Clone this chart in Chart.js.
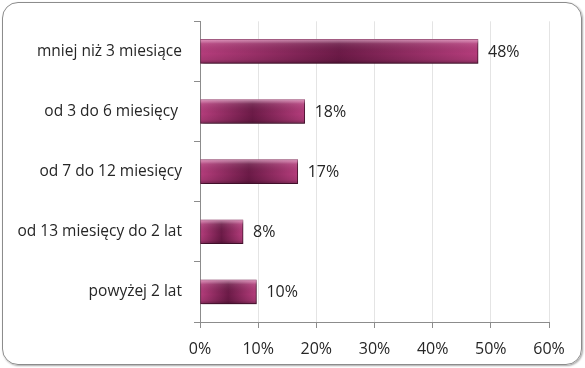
<!DOCTYPE html>
<html>
<head>
<meta charset="utf-8">
<script src="https://cdn.jsdelivr.net/npm/chart.js@4"></script>
<style>
  html, body { margin: 0; padding: 0; background: #fff; }
  .frame {
    position: absolute; left: 2px; top: 2px; width: 578px; height: 361px;
    border: 1.5px solid #8c8c8c; border-radius: 16px;
    box-shadow: 1px 1px 2px rgba(0,0,0,0.35);
  }
  #wrap { position: absolute; left: 0; top: 0; width: 585px; height: 368px; }
</style>
</head>
<body>
<div class="frame"></div>
<div id="wrap"><canvas id="okres"></canvas></div>
<script>
const categories = ['mniej niż 3 miesiące', 'od 3 do 6 miesięcy ', 'od 7 do 12 miesięcy', 'od 13 miesięcy do 2 lat', 'powyżej 2 lat'];
const values = [47.8, 18.0, 16.8, 7.4, 9.7];
const valueLabels = ['48%', '18%', '17%', '8%', '10%'];
const xTicks = [0, 10, 20, 30, 40, 50, 60];

const FONT = "'Open Sans', 'Noto Sans', sans-serif";

// gradient across each bar, dark in the middle
function barFill(c) {
    const chart = c.chart;
    if (!chart.chartArea || c.raw === undefined) return '#9c2e68';
    const xs = chart.scales.x;
    const x0 = xs.getPixelForValue(0);
    const x1 = xs.getPixelForValue(c.raw);
    if (x1 - x0 < 1) return '#9c2e68';
    const g = chart.ctx.createLinearGradient(x0, 0, x1, 0);
    g.addColorStop(0, '#b53d7c');
    g.addColorStop(0.5, '#6c1a47');
    g.addColorStop(1, '#b53d7c');
    return g;
}

const barLook = {
    id: 'barLook',
    beforeDatasetsDraw(chart) {
        const ctx = chart.ctx;
        ctx.save();
        ctx.shadowColor = 'rgba(0,0,0,0.35)';
        ctx.shadowBlur = 3;
        ctx.shadowOffsetX = 2;
        ctx.shadowOffsetY = 2;
    },
    afterDatasetsDraw(chart) {
        const ctx = chart.ctx;
        ctx.restore();
        const meta = chart.getDatasetMeta(0);
        meta.data.forEach((bar, i) => {
            const p = bar.getProps(['x', 'y', 'base', 'height'], true);
            const top = p.y - p.height / 2;
            const g = ctx.createLinearGradient(0, top, 0, top + p.height);
            g.addColorStop(0, 'rgba(255,200,230,0.6)');
            g.addColorStop(0.18, 'rgba(255,255,255,0.1)');
            g.addColorStop(0.6, 'rgba(0,0,0,0)');
            g.addColorStop(0.85, 'rgba(0,0,0,0.08)');
            g.addColorStop(1, 'rgba(0,0,0,0.3)');
            ctx.save();
            ctx.fillStyle = g;
            ctx.fillRect(p.base, top, p.x - p.base, p.height);
            ctx.restore();

            ctx.save();
            ctx.fillStyle = '#262626';
            ctx.font = '16px ' + FONT;
            ctx.textAlign = 'left';
            ctx.textBaseline = 'middle';
            ctx.fillText(valueLabels[i], p.x + 10, p.y + 1);
            ctx.restore();
        });
    }
};

const chart = new Chart(document.getElementById('okres'), {
    type: 'bar',
    data: {
        labels: categories,
        datasets: [{
            data: values,
            backgroundColor: barFill,
            borderColor: '#6e1c48',
            borderWidth: 1,
            borderSkipped: false,
            barThickness: 24
        }]
    },
    plugins: [barLook],
    options: {
        indexAxis: 'y',
        responsive: true,
        maintainAspectRatio: false,
        animation: false,
        layout: { padding: { left: 0, right: 36, top: 20, bottom: 10 } },
        plugins: { legend: { display: false }, tooltip: { enabled: false } },
        scales: {
            x: {
                min: 0, max: 60,
                afterBuildTicks(axis) { axis.ticks = xTicks.map(v => ({ value: v })); },
                afterFit(axis) { axis.height = 36; },
                grid: { color: '#e4e4e4', tickColor: '#8c8c8c', tickLength: 6 },
                border: { color: '#8c8c8c' },
                ticks: {
                    color: '#262626', padding: 12,
                    font: { family: FONT, size: 16 },
                    callback: v => v + '%'
                }
            },
            y: {
                afterFit(axis) { axis.width = 200; },
                grid: { drawOnChartArea: false, offset: true, tickColor: '#8c8c8c', tickLength: 6 },
                border: { color: '#8c8c8c' },
                ticks: {
                    color: '#262626', padding: 12,
                    font: { family: FONT, size: 15.5 }
                }
            }
        }
    }
});
</script>
</body>
</html>
